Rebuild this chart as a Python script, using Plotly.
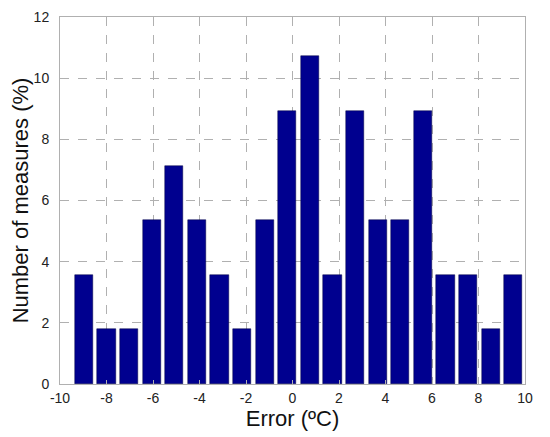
import plotly.graph_objects as go

bin_centers = [-8.97, -8.00, -7.03, -6.05, -5.08, -4.11, -3.14, -2.17, -1.19, -0.22,
               0.75, 1.72, 2.69, 3.67, 4.64, 5.61, 6.58, 7.55, 8.52, 9.50]
percent = [3.57, 1.79, 1.79, 5.36, 7.14, 5.36, 3.57, 1.79, 5.36, 8.93,
           10.71, 3.57, 8.93, 5.36, 5.36, 8.93, 3.57, 3.57, 1.79, 3.57]
x_ticks = [-10, -8, -6, -4, -2, 0, 2, 4, 6, 8, 10]
y_ticks = [0, 2, 4, 6, 8, 10, 12]

fig = go.Figure()
fig.add_trace(go.Bar(
    x=bin_centers, y=percent, width=0.777,
    marker=dict(color="#00008F", line=dict(color="#000040", width=0.5)),
))

font_family = "Liberation Sans, Arial, sans-serif"
fig.update_layout(
    width=550, height=437,
    margin=dict(l=52, r=33, t=9, b=61),
    plot_bgcolor="white", paper_bgcolor="white",
    showlegend=False,
    font=dict(family=font_family, color="#222", size=14),
    xaxis=dict(
        range=[-10, 10], tickvals=x_ticks, ticktext=[str(v) for v in x_ticks],
        showgrid=True, gridcolor="#b0b0b0", griddash="dash", gridwidth=1,
        showline=True, linecolor="#b0b0b0", linewidth=1, mirror=True,
        ticks="inside", ticklen=4, tickcolor="#b0b0b0",
        zeroline=False, automargin=False, ticklabelstandoff=1,
        title=dict(text="Error (ºC)", font=dict(size=22, family=font_family, color="#111"), standoff=3),
        tickfont=dict(size=14, color="#222"),
    ),
    yaxis=dict(
        range=[0, 12], tickvals=y_ticks,
        showgrid=True, gridcolor="#b0b0b0", griddash="dash", gridwidth=1,
        showline=True, linecolor="#b0b0b0", linewidth=1, mirror=True,
        ticks="inside", ticklen=4, tickcolor="#b0b0b0",
        zeroline=False, automargin=False, ticklabelstandoff=7,
        title=dict(text="Number of measures (%)", font=dict(size=22, family=font_family, color="#111"), standoff=8),
        tickfont=dict(size=14, color="#222"),
    ),
    bargap=0,
)

fig.write_html("out.html")
